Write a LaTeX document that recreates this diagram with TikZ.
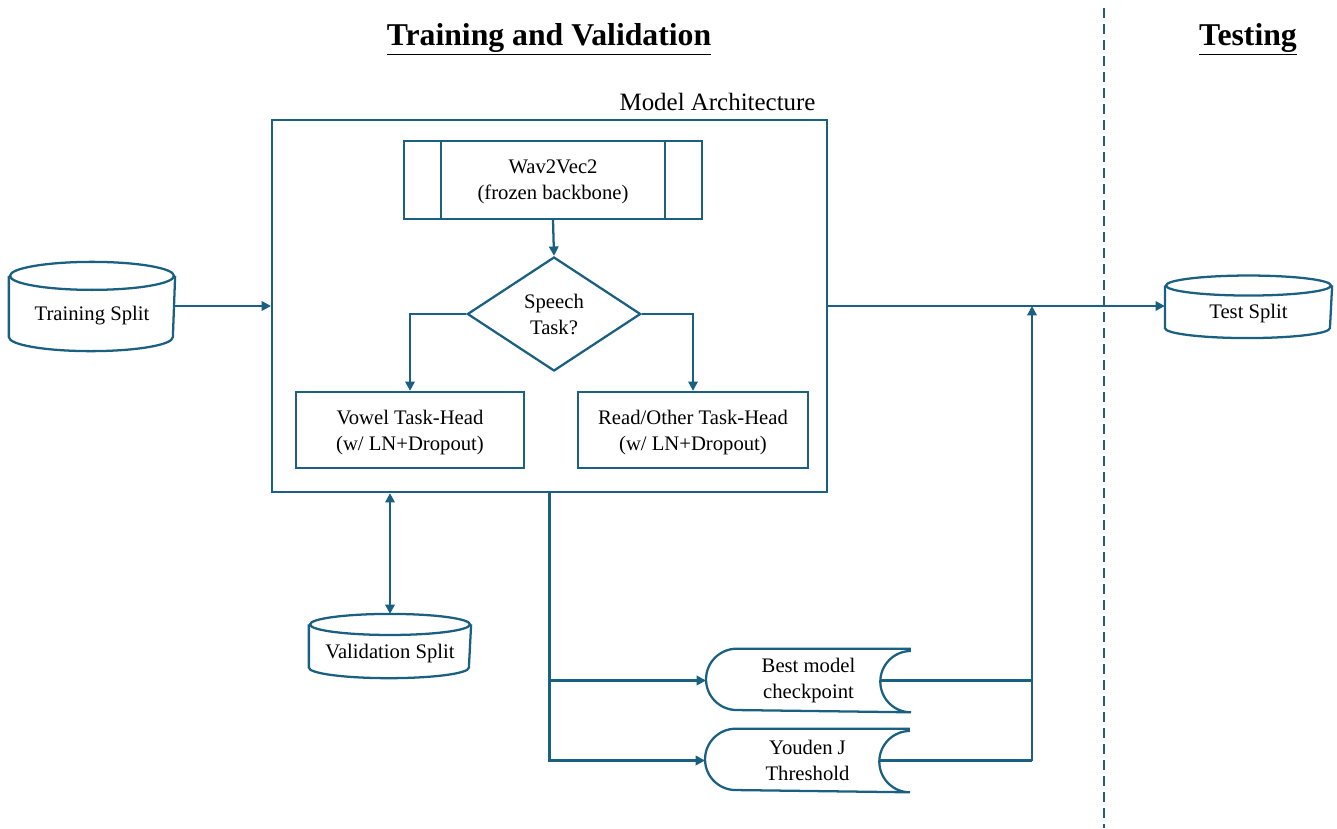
\documentclass[tikz,border=0pt]{standalone}
\usepackage{fontspec}
\setmainfont{Liberation Serif}
\usetikzlibrary{arrows.meta,shapes.geometric,positioning,calc}
\definecolor{flowblue}{RGB}{26,96,128}

\begin{document}
\begin{tikzpicture}[
    x=0.75pt,y=0.75pt,
    line width=1.7pt,
    >={Triangle[length=7pt,width=7pt]},
    every node/.style={font=\fontsize{15.5}{19.5}\selectfont,align=center,text=black},
    block/.style={rectangle,draw=flowblue,inner sep=0pt,text depth=0pt},
    datacyl/.style={rectangle,inner sep=0pt,text depth=0pt},
    decision/.style={diamond,draw=flowblue,inner sep=0pt},
    stored/.style={rectangle,inner sep=0pt,minimum width=152pt,minimum height=46pt},
    arrow/.style={draw=flowblue,->},
    link/.style={draw=flowblue},
    heading/.style={font=\fontsize{23.8}{28}\selectfont\bfseries}
]
    \useasboundingbox (0,0) rectangle (1337,-828);

    % titles and divider
    \node[heading] (trainhead) at (549,-39) {\underline{Training and Validation}};
    \node[heading] (testhead) at (1248,-39) {\underline{Testing}};
    \coordinate (divtop) at (1104,-8);
    \coordinate (divbot) at (1104,-828);
    \draw[flowblue,dash pattern=on 7.5pt off 4.5pt] (divtop) -- (divbot);

    % model architecture
    \node[block,minimum width=416pt,minimum height=279pt] (arch) at (549.5,-306) {};
    \node[anchor=south east,font=\fontsize{18.7}{22}\selectfont,inner sep=2pt] (archlabel) at ([xshift=-6.5pt,yshift=3.5pt]arch.north east) {Model Architecture};

    \node[block,minimum width=223.5pt,minimum height=58.5pt] (wav) at (553,-180) {Wav2Vec2\\(frozen backbone)};
    \draw[flowblue] ([xshift=28.5pt]wav.north west) -- ([xshift=28.5pt]wav.south west);
    \draw[flowblue] ([xshift=-28.5pt]wav.north east) -- ([xshift=-28.5pt]wav.south east);

    \node[decision,minimum width=130pt,minimum height=85.5pt] (task) at (554,-314) {Speech\\Task?};

    \node[block,minimum width=171pt,minimum height=57pt] (vowel) at (410,-430) {Vowel Task-Head\\(w/ LN+Dropout)};
    \node[block,minimum width=172.5pt,minimum height=57pt] (read) at (693,-430) {Read/Other Task-Head\\(w/ LN+Dropout)};

    % data splits (body of each cylinder, top ellipse drawn at .north)
    \node[datacyl,minimum width=123pt,minimum height=54.75pt] (trainsplit) at (92,-313.5) {Training Split};
    \node[datacyl,minimum width=123.75pt,minimum height=37.7pt] (testsplit) at (1248.5,-311.8) {Test Split};
    \node[datacyl,minimum width=120pt,minimum height=38.6pt] (valsplit) at (390,-651.3) {Validation Split};
    \foreach \s/\w/\r in {trainsplit/61.5pt/10.5pt,testsplit/61.9pt/7.5pt,valsplit/60pt/7.9pt}{
        \draw[flowblue] (\s.north west) -- ([yshift=\r]\s.south west)
            arc[start angle=180,end angle=360,x radius=\w,y radius=\r] -- (\s.north east);
        \draw[flowblue] (\s.north) ellipse[x radius=\w,y radius=\r];
    }

    % outputs
    \node[stored] (best) at (808.5,-680.5) {Best model\\checkpoint};
    \node[stored] (youden) at (807.5,-760.5) {Youden J\\Threshold};
    \foreach \s in {best,youden}{
        \draw[flowblue] (\s.north east) -- ([xshift=23pt]\s.north west)
            arc[start angle=90,end angle=270,radius=23pt] -- (\s.south east)
            arc[start angle=270,end angle=90,radius=23pt];
    }
    \coordinate (merge) at (1032,-760.5);

    % connectors
    \draw[arrow] (wav.south) -- (task.north);
    \draw[arrow] (task.west) -| (vowel.north);
    \draw[arrow] (task.east) -| (read.north);
    \draw[arrow] (trainsplit.east |- arch.west) -- (arch.west);
    \draw[arrow] (arch.east) -- (arch.east -| testsplit.west);
    \draw[draw=flowblue,<->] (valsplit.north |- arch.south) -- ([yshift=7.9pt]valsplit.north);
    \draw[arrow] (arch.south) |- (best.west);
    \draw[arrow] (arch.south) |- (youden.west);
    \draw[link] ([xshift=-23pt]best.east) -- (best.east -| merge);
    \draw[link] ([xshift=-23pt]youden.east) -- (merge);
    \draw[arrow] (merge) -- (merge |- arch.east);
\end{tikzpicture}
\end{document}
